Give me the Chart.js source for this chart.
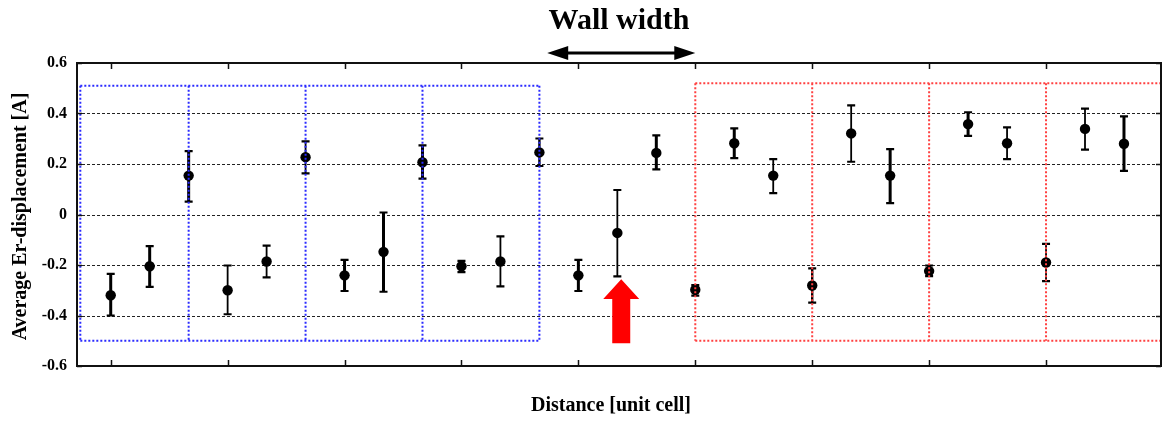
<!DOCTYPE html>
<html>
<head>
<meta charset="utf-8">
<script src="https://cdn.jsdelivr.net/npm/chart.js@4.4.1/dist/chart.umd.min.js"></script>
<style>
  html, body { margin: 0; padding: 0; background: #fff; }
  #wrap { width: 1162px; height: 423px; }
</style>
</head>
<body>
<div id="wrap"><canvas id="c" width="1162" height="423"></canvas></div>
<script>
// -------- data --------
const distance     = [0, 1, 2, 3, 4, 5, 6, 7, 8, 9, 10, 11, 12, 13, 14, 15, 16, 17, 18, 19, 20, 21, 22, 23, 24, 25, 26];
const displacement = [-0.32, -0.205, 0.154, -0.30, -0.186, 0.227, -0.241, -0.148, 0.207, -0.205, -0.186, 0.246,
                      -0.241, -0.073, 0.244, -0.298, 0.282, 0.154, -0.281, 0.321, 0.154, -0.224, 0.358, 0.282,
                      -0.19, 0.339, 0.28];
const barTop       = [-0.235, -0.125, 0.251, -0.202, -0.123, 0.290, -0.18, 0.008, 0.274, -0.184, -0.087, 0.301,
                      -0.18, 0.097, 0.313, -0.28, 0.341, 0.219, -0.213, 0.432, 0.259, -0.202, 0.405, 0.345,
                      -0.116, 0.419, 0.389];
const barBottom    = [-0.40, -0.287, 0.051, -0.395, -0.249, 0.163, -0.303, -0.306, 0.142, -0.228, -0.285, 0.192,
                      -0.303, -0.245, 0.179, -0.321, 0.223, 0.085, -0.349, 0.209, 0.045, -0.244, 0.311, 0.219,
                      -0.264, 0.257, 0.173];
const xTicks = [0, 3, 6, 9, 12, 15, 18, 21, 24];
const yTicks = [-0.6, -0.4, -0.2, 0, 0.2, 0.4, 0.6];

// dotted boxes (unit-cell regions) and annotations, in data units
const blueEdges = [-0.78, 2, 5, 8, 11];
const blueSpan  = [-0.50, 0.51];
const redEdges  = [15, 18, 21, 24, 26.95];
const redSpan   = [-0.50, 0.52];
const wallArrow = [11.2, 15];         // "Wall width" arrow ends
const redArrow  = { x: 13.1, tip: -0.256, base: -0.335, end: -0.51 };

// -------- styles --------
const SERIF = "'Liberation Serif', 'DejaVu Serif', serif";
const thick = [3, 3, 3, 1.8, 1.8, 1.8, 3, 3, 3, 3, 1.8, 2.4,
               3, 1.8, 3, 3, 3, 1.8, 2.4, 1.8, 3, 3, 3, 1.8, 1.8, 1.8, 3];

const figurePlugin = {
  id: "figure",
  beforeDatasetsDraw(chart) {
    const { ctx, chartArea: a, scales: { x, y } } = chart;
    ctx.save();
    // dotted grid
    ctx.strokeStyle = "#222";
    ctx.lineWidth = 1;
    ctx.setLineDash([3, 2]);
    yTicks.forEach(v => {
      if (Math.abs(v) > 0.59) return;
      const py = Math.round(y.getPixelForValue(v)) + 0.5;
      ctx.beginPath(); ctx.moveTo(a.left, py); ctx.lineTo(a.right, py); ctx.stroke();
    });
    ctx.setLineDash([]);
    // error bars
    ctx.strokeStyle = "#000";
    distance.forEach((d, i) => {
      const px = x.getPixelForValue(d);
      const t = y.getPixelForValue(barTop[i]);
      const b = y.getPixelForValue(barBottom[i]);
      ctx.lineWidth = thick[i];
      ctx.beginPath(); ctx.moveTo(px, t); ctx.lineTo(px, b); ctx.stroke();
      ctx.lineWidth = 2.2;
      ctx.beginPath();
      ctx.moveTo(px - 4, t); ctx.lineTo(px + 4, t);
      ctx.moveTo(px - 4, b); ctx.lineTo(px + 4, b);
      ctx.stroke();
    });
    ctx.restore();
  },
  afterDatasetsDraw(chart) {
    const { ctx, chartArea: a, scales: { x, y } } = chart;
    ctx.save();
    const box = (edges, span, color) => {
      ctx.strokeStyle = color;
      ctx.lineWidth = 2;
      ctx.setLineDash([2, 2]);
      const t = y.getPixelForValue(span[1]);
      const b = y.getPixelForValue(span[0]);
      const l = x.getPixelForValue(edges[0]);
      const r = x.getPixelForValue(edges[edges.length - 1]);
      ctx.beginPath();
      ctx.moveTo(l, t); ctx.lineTo(r, t);
      ctx.moveTo(l, b); ctx.lineTo(r, b);
      edges.forEach(e => {
        const px = x.getPixelForValue(e);
        ctx.moveTo(px, t); ctx.lineTo(px, b);
      });
      ctx.stroke();
    };
    box(blueEdges, blueSpan, "#2b2bff");
    box(redEdges, redSpan, "#ff4040");
    ctx.setLineDash([]);

    // red arrow pointing at the wall
    const ax = x.getPixelForValue(redArrow.x);
    const tip = y.getPixelForValue(redArrow.tip);
    const base = y.getPixelForValue(redArrow.base);
    const end = y.getPixelForValue(redArrow.end);
    ctx.fillStyle = "#ff0000";
    ctx.beginPath();
    ctx.moveTo(ax, tip);
    ctx.lineTo(ax + 18, base);
    ctx.lineTo(ax + 9, base);
    ctx.lineTo(ax + 9, end);
    ctx.lineTo(ax - 9, end);
    ctx.lineTo(ax - 9, base);
    ctx.lineTo(ax - 18, base);
    ctx.closePath();
    ctx.fill();
    ctx.restore();
  },
  afterDraw(chart) {
    const { ctx, chartArea: a, scales: { x, y } } = chart;
    ctx.save();
    // frame
    ctx.strokeStyle = "#111";
    ctx.lineWidth = 2;
    ctx.strokeRect(a.left, a.top, a.right - a.left, a.bottom - a.top);
    // inward tick marks
    ctx.lineWidth = 1.5;
    ctx.beginPath();
    xTicks.forEach(v => {
      const px = Math.round(x.getPixelForValue(v)) + 0.5;
      ctx.moveTo(px, a.top); ctx.lineTo(px, a.top + 6);
      ctx.moveTo(px, a.bottom); ctx.lineTo(px, a.bottom - 6);
    });
    yTicks.forEach(v => {
      const py = Math.round(y.getPixelForValue(v)) + 0.5;
      ctx.moveTo(a.left, py); ctx.lineTo(a.left + 5, py);
      ctx.moveTo(a.right, py); ctx.lineTo(a.right - 5, py);
    });
    ctx.stroke();

    // axis titles
    ctx.fillStyle = "#000";
    ctx.textAlign = "center";
    ctx.textBaseline = "middle";
    ctx.font = "bold 20px " + SERIF;
    ctx.fillText("Distance [unit cell]", 611, 406);
    ctx.save();
    ctx.translate(21, (a.top + a.bottom) / 2 + 2);
    ctx.rotate(-Math.PI / 2);
    ctx.font = "bold 20px " + SERIF;
    ctx.fillText("Average Er-displacement [A]", 0, 0);
    ctx.restore();

    // "Wall width" annotation
    ctx.font = "bold 30px " + SERIF;
    ctx.fillText("Wall width", 619, 21);
    const l = x.getPixelForValue(wallArrow[0]);
    const r = x.getPixelForValue(wallArrow[1]);
    const ay = 53;
    ctx.strokeStyle = "#000";
    ctx.lineWidth = 3;
    ctx.beginPath(); ctx.moveTo(l + 14, ay); ctx.lineTo(r - 14, ay); ctx.stroke();
    ctx.beginPath();
    ctx.moveTo(l, ay); ctx.lineTo(l + 21, ay - 7); ctx.lineTo(l + 21, ay + 7); ctx.closePath();
    ctx.moveTo(r, ay); ctx.lineTo(r - 21, ay - 7); ctx.lineTo(r - 21, ay + 7); ctx.closePath();
    ctx.fill();
    ctx.restore();
  }
};

new Chart(document.getElementById("c").getContext("2d"), {
  type: "scatter",
  data: {
    datasets: [{
      data: distance.map((d, i) => ({ x: d, y: displacement[i] })),
      backgroundColor: "#000",
      borderColor: "#000",
      pointRadius: 5.2,
      pointBorderWidth: 0,
      clip: false
    }]
  },
  options: {
    responsive: false,
    animation: false,
    layout: { autoPadding: false, padding: { left: 0, top: 63, right: 1, bottom: 0 } },
    plugins: { legend: { display: false }, tooltip: { enabled: false } },
    scales: {
      x: {
        type: "linear",
        min: -0.865,
        max: 26.95,
        grid: { display: false, drawTicks: false },
        border: { display: false },
        ticks: { display: false },
        afterBuildTicks: s => { s.ticks = xTicks.map(v => ({ value: v })); },
        afterFit: s => { s.height = 57; }
      },
      y: {
        min: -0.6,
        max: 0.6,
        grid: { display: false, drawTicks: false },
        border: { display: false },
        afterBuildTicks: s => { s.ticks = yTicks.map(v => ({ value: v })); },
        ticks: {
          padding: 10,
          color: "#000",
          font: { family: SERIF, size: 16, weight: "bold" },
          callback: v => (Math.abs(v) < 1e-9 ? "0" : (Math.round(v * 10) / 10).toFixed(1))
        },
        afterFit: s => { s.width = 77; }
      }
    }
  },
  plugins: [figurePlugin]
});
</script>
</body>
</html>
